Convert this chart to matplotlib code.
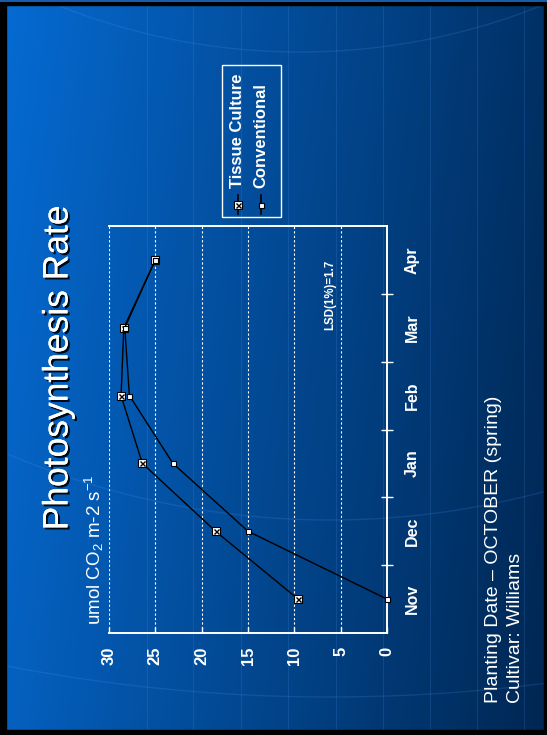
import numpy as np
import matplotlib.pyplot as plt
import matplotlib.patheffects as pe
from matplotlib.patches import Rectangle

plt.rcParams['font.family'] = ['Liberation Sans', 'DejaVu Sans']
plt.rcParams['mathtext.default'] = 'regular'

# monthly photosynthesis readings (umol CO2 m-2 s-1)
months = ['Nov', 'Dec', 'Jan', 'Feb', 'Mar', 'Apr']
tissue_culture = [9.6, 18.5, 26.4, 28.7, 28.4, 25.0]
conventional = [0.0, 15.0, 23.1, 27.8, 28.3, 25.0]
value_ticks = [0, 5, 10, 15, 20, 25, 30]

W, H = 547, 735
fig = plt.figure(figsize=(W / 100, H / 100), dpi=100)

# slide background, pixel coordinates with y running down
bg = fig.add_axes([0, 0, 1, 1])
bg.set_xlim(0, W)
bg.set_ylim(H, 0)
bg.axis('off')
gx, gy = np.meshgrid(np.linspace(0, 1, 400), np.linspace(0, 1, 400))
t = np.clip(0.85 * gx + 0.15 * gy, 0, 1)[..., None]
c0 = np.array([0.02, 0.42, 0.83])
c1 = np.array([0.0, 0.15, 0.32])
bg.imshow(c0 * (1 - t) + c1 * t, extent=[0, W, H, 0], aspect='auto', zorder=0)

# faint decorative meridians and arcs
for x in [147, 193, 241, 288, 336, 383, 430, 477, 524]:
    bg.plot([x, x], [0, H], color='#5aa0ff', lw=0.8, alpha=0.16, zorder=1)
xs = np.linspace(0, W, 200)
for cx, cy, r in [(300, -600, 652), (330, -1000, 1697), (330, -300, 820)]:
    bg.plot(xs, cy + np.sqrt(np.clip(r ** 2 - (xs - cx) ** 2, 0, None)),
            color='#5aa0ff', lw=1.0, alpha=0.16, zorder=1)

# black slide border
for rx, ry, rw, rh in [(0, 0, 6, H), (W - 3, 0, 3, H), (0, 0, W, 5), (0, H - 5, W, 5)]:
    bg.add_patch(Rectangle((rx, ry), rw, rh, color='black', zorder=2))
bg.plot([0, W], [0.5, 0.5], color='#1f6fd0', lw=1.2, zorder=3)

# main chart, drawn sideways: values run right-to-left, months bottom-to-top
ax = fig.add_axes([109 / W, 1 - 633 / H, (387 - 109) / W, (633 - 226) / H])
ax.patch.set_alpha(0)
ax.set_xlim(30, 0)
ax.set_ylim(-0.5, len(months) - 0.5)
idx = np.arange(len(months))

ax.vlines(value_ticks[1:], -0.5, len(months) - 0.5, colors='white',
          linestyles=(0, (2, 2)), lw=0.8, zorder=1)

ax.plot(tissue_culture, idx, color='black', lw=1, marker='s', ms=5.2,
        mfc='white', mec='black', mew=0.8, zorder=3, clip_on=False)
ax.plot(tissue_culture, idx, ls='none', marker='x', ms=3.6, mec='black',
        mew=1.0, zorder=4, clip_on=False)
ax.plot(conventional, idx, color='black', lw=1, marker='s', ms=3.6,
        mfc='white', mec='black', mew=0.8, zorder=5, clip_on=False)

ax.spines['left'].set_visible(False)
for side in ['top', 'right', 'bottom']:
    ax.spines[side].set_color('white')
    ax.spines[side].set_linewidth(1.4)

ax.set_xticks(value_ticks)
ax.set_xticklabels([str(v) for v in value_ticks], rotation=90, fontsize=12,
                   fontweight='bold', color='white', va='top', ha='center')
ax.tick_params(axis='x', direction='in', length=4, width=1, color='white', pad=10)

ax.yaxis.tick_right()
ax.set_yticks(idx)
ax.set_yticklabels(months, rotation=90, fontsize=11.5, fontweight='bold',
                   color='white', va='center', ha='left')
ax.set_yticks(idx[:-1] + 0.5, minor=True)
ax.tick_params(axis='y', which='major', length=0, pad=13)
ax.tick_params(axis='y', which='minor', direction='inout', length=9, width=1,
               color='white')

ax.text(330, 295, 'LSD(1%)=1.7', transform=bg.transData, rotation=90,
        fontsize=8.3, fontweight='bold', color='white', ha='center', va='center')

# legend box with sideways entries
bg.add_patch(Rectangle((222, 65), 59, 152, fill=False, ec='white', lw=1, zorder=5))
for lx, label, ms, cross in [(238, 'Tissue Culture', 5.2, True),
                             (261, 'Conventional', 3.6, False)]:
    bg.plot([lx, lx], [195, 214], color='black', lw=1.2, zorder=5)
    bg.plot(lx, 205, marker='s', ms=ms, mfc='white', mec='black', mew=0.8, zorder=6)
    if cross:
        bg.plot(lx, 205, marker='x', ms=3.6, mec='black', mew=1.0, zorder=7)
    bg.text(lx, 188, label, rotation=90, fontsize=12, fontweight='bold',
            color='white', ha='center', va='bottom', zorder=6)

# titles and notes
fig.text(58 / W, 1 - 368 / H, 'Photosynthesis Rate', rotation=90, fontsize=25.5,
         color='white', ha='center', va='center',
         path_effects=[pe.withSimplePatchShadow(offset=(1.5, -1.5),
                                                shadow_rgbFace='black', alpha=0.9),
                       pe.Normal()])
fig.text(94 / W, 1 - 625 / H, 'umol CO$_2$ m-2 s$^{-1}$', rotation=90, fontsize=13.5,
         color='white', ha='center', va='bottom')
fig.text(494 / W, 1 - 703 / H, 'Planting Date \u2013 OCTOBER (spring)', rotation=90,
         fontsize=14, color='white', ha='center', va='bottom')
fig.text(516 / W, 1 - 703 / H, 'Cultivar: Williams', rotation=90,
         fontsize=14, color='white', ha='center', va='bottom')

fig.savefig('out.png', dpi=100)
